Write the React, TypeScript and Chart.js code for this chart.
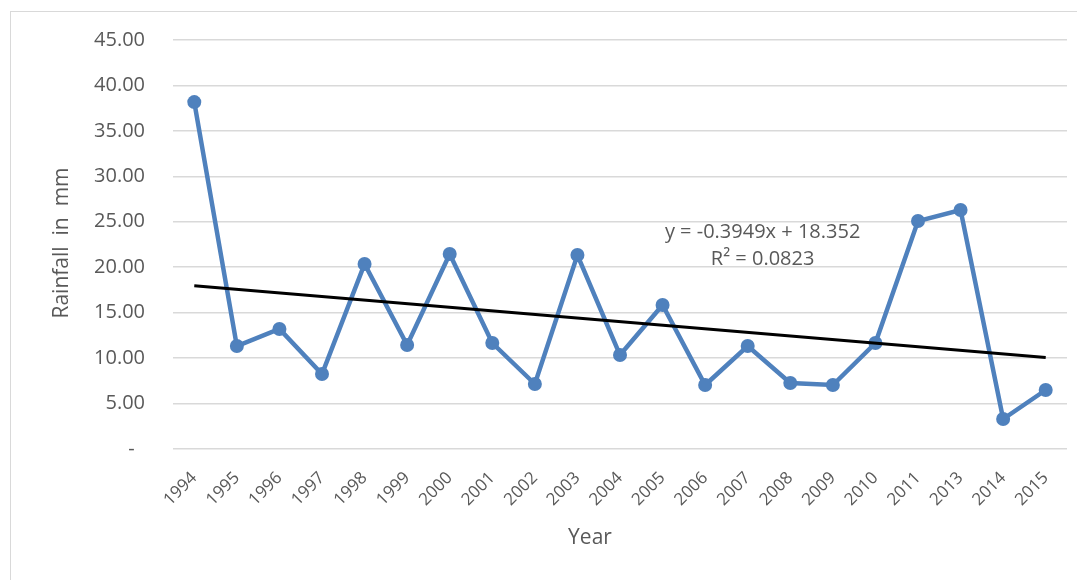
import React, { useEffect, useRef } from "react";
import { Chart, registerables } from "chart.js";

Chart.register(...registerables);

const years: string[] = [
  "1994", "1995", "1996", "1997", "1998", "1999", "2000", "2001", "2002", "2003",
  "2004", "2005", "2006", "2007", "2008", "2009", "2010", "2011", "2013", "2014", "2015",
];

const rainfall: number[] = [
  38.17, 11.33, 13.2, 8.25, 20.35, 11.44, 21.45, 11.66, 7.15, 21.34,
  10.34, 15.84, 7.04, 11.33, 7.26, 7.04, 11.66, 25.08, 26.29, 3.3, 6.49,
];

// Linear trend endpoints (y = -0.3949x + 18.352 at x = 1 and x = 21)
const trendStart = 17.96;
const trendEnd = 10.06;
const trendValues: (number | null)[] = years.map((_, i) =>
  i === 0 ? trendStart : i === years.length - 1 ? trendEnd : null
);

const trendLabel: string[] = ["y = -0.3949x + 18.352", "R\u00B2 = 0.0823"];
const yTitle = "Rainfall  in  mm";
const xTitle = "Year";

const TEXT = "#595959";
const FONT = "'Open Sans', 'Noto Sans', sans-serif";

const annotations = {
  id: "annotations",
  afterDraw(chart: any) {
    const { ctx, scales } = chart;
    const xs = scales.x;
    const ys = scales.y;
    ctx.save();
    ctx.fillStyle = TEXT;
    ctx.textAlign = "center";
    ctx.textBaseline = "middle";
    ctx.font = `20px ${FONT}`;
    const lx = xs.getPixelForValue(13.35);
    ctx.fillText(trendLabel[0], lx, ys.getPixelForValue(23.87));
    ctx.fillText(trendLabel[1], lx, ys.getPixelForValue(20.9));

    ctx.font = `21px ${FONT}`;
    ctx.fillText(xTitle, 579, 526);
    ctx.translate(51, 231);
    ctx.rotate(-Math.PI / 2);
    ctx.fillText(yTitle, 0, 0);
    ctx.restore();
  },
};

export default function App() {
  const ref = useRef<HTMLCanvasElement | null>(null);

  useEffect(() => {
    document.body.style.overflow = "hidden";
    if (!ref.current) return;
    const chart = new Chart(ref.current, {
      type: "line",
      data: {
        labels: years,
        datasets: [
          {
            label: "Trend",
            data: trendValues,
            borderColor: "#000000",
            borderWidth: 3,
            pointRadius: 0,
            spanGaps: true,
            order: 0,
          },
          {
            label: "Rainfall",
            data: rainfall,
            borderColor: "#4f81bd",
            backgroundColor: "#4f81bd",
            borderWidth: 4.5,
            pointRadius: 7,
            pointBorderWidth: 0,
            pointBackgroundColor: "#4f81bd",
            order: 1,
          },
        ],
      },
      options: {
        animation: false,
        responsive: false,
        maintainAspectRatio: false,
        layout: { padding: { top: 28, right: 18, bottom: 0, left: 0 } },
        plugins: {
          legend: { display: false },
          tooltip: { enabled: false },
          title: { display: false },
        },
        scales: {
          x: {
            offset: true,
            grid: { display: false, drawTicks: false },
            border: { display: false },
            ticks: {
              autoSkip: false,
              minRotation: 45,
              maxRotation: 45,
              padding: 19,
              color: TEXT,
              font: { family: FONT, size: 17 },
            },
            afterFit(scale: any) {
              scale.height = 131;
            },
          },
          y: {
            min: 0,
            max: 45,
            grid: {
              color: "#d9d9d9",
              lineWidth: 1.5,
              drawTicks: true,
              tickLength: 20,
              tickColor: "rgba(0,0,0,0)",
            },
            border: { display: false },
            ticks: {
              stepSize: 5,
              padding: 8,
              color: TEXT,
              font: { family: FONT, size: 20 },
              callback: (v: any) => (Number(v) === 0 ? "-  " : Number(v).toFixed(2)),
            },
            afterFit(scale: any) {
              scale.width = 162;
            },
          },
        },
      },
      plugins: [annotations],
    });
    return () => chart.destroy();
  }, []);

  return (
    <div
      style={{
        marginLeft: 2,
        marginTop: 3,
        width: 1074,
        height: 568,
        borderTop: "1px solid #d9d9d9",
        borderLeft: "1px solid #d9d9d9",
        position: "relative",
      }}
    >
      <canvas ref={ref} width={1074} height={568} style={{ display: "block" }} />
    </div>
  );
}
